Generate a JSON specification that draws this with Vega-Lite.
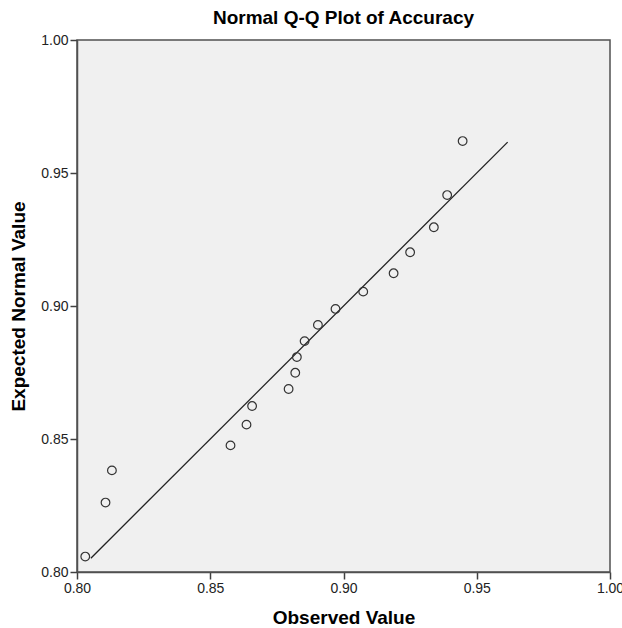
{
  "$schema": "https://vega.github.io/schema/vega-lite/v6.json",
  "autosize": "none",
  "width": 533,
  "height": 532,
  "padding": {"left": 77, "top": 40, "right": 12, "bottom": 56},
  "background": "white",
  "title": {
    "text": "Normal Q-Q Plot of Accuracy",
    "font": "Liberation Sans",
    "fontSize": 19,
    "fontWeight": "bold",
    "color": "#000000",
    "anchor": "middle",
    "offset": 5
  },
  "config": {
    "view": {"fill": "#f0f0f0", "stroke": "#505050", "strokeWidth": 1.5},
    "axis": {
      "grid": false,
      "domainColor": "#505050",
      "domainWidth": 1.5,
      "tickColor": "#404040",
      "tickWidth": 1.5,
      "tickSize": 7,
      "labelFont": "Liberation Sans",
      "labelFontSize": 14,
      "labelColor": "#222222",
      "labelPadding": 2,
      "labelFlush": false,
      "titleFont": "Liberation Sans",
      "titleFontSize": 19,
      "titleFontWeight": "bold",
      "titleColor": "#000000"
    }
  },
  "datasets": {
    "pts": [
      {"observed": 0.8031, "expected": 0.8058},
      {"observed": 0.8107, "expected": 0.8261},
      {"observed": 0.8131, "expected": 0.8382},
      {"observed": 0.8576, "expected": 0.8476},
      {"observed": 0.8636, "expected": 0.8554},
      {"observed": 0.8657, "expected": 0.8624},
      {"observed": 0.8794, "expected": 0.8688},
      {"observed": 0.8819, "expected": 0.8749},
      {"observed": 0.8825, "expected": 0.8808},
      {"observed": 0.8854, "expected": 0.8868},
      {"observed": 0.8904, "expected": 0.8929},
      {"observed": 0.8970, "expected": 0.8989},
      {"observed": 0.9074, "expected": 0.9054},
      {"observed": 0.9188, "expected": 0.9123},
      {"observed": 0.9250, "expected": 0.9202},
      {"observed": 0.9339, "expected": 0.9296},
      {"observed": 0.9389, "expected": 0.9417},
      {"observed": 0.9447, "expected": 0.9620}
    ],
    "ref": [
      {"observed": 0.8052, "expected": 0.8052},
      {"observed": 0.9616, "expected": 0.9616}
    ]
  },
  "layer": [
    {
      "data": {"name": "ref"},
      "mark": {"type": "line", "color": "#222222", "strokeWidth": 1.3},
      "encoding": {
        "x": {"field": "observed", "type": "quantitative"},
        "y": {"field": "expected", "type": "quantitative"}
      }
    },
    {
      "data": {"name": "pts"},
      "mark": {"type": "point", "shape": "circle", "filled": false, "stroke": "#333333", "strokeWidth": 1.2, "size": 75, "opacity": 1},
      "encoding": {
        "x": {
          "field": "observed",
          "type": "quantitative",
          "title": "Observed Value",
          "scale": {"domain": [0.8, 1.0], "nice": false, "zero": false},
          "axis": {"values": [0.8, 0.85, 0.9, 0.95, 1.0], "format": ".2f", "titlePadding": 13}
        },
        "y": {
          "field": "expected",
          "type": "quantitative",
          "title": "Expected Normal Value",
          "scale": {"domain": [0.8, 1.0], "nice": false, "zero": false},
          "axis": {"values": [0.8, 0.85, 0.9, 0.95, 1.0], "format": ".2f", "titlePadding": 12}
        }
      }
    }
  ]
}
